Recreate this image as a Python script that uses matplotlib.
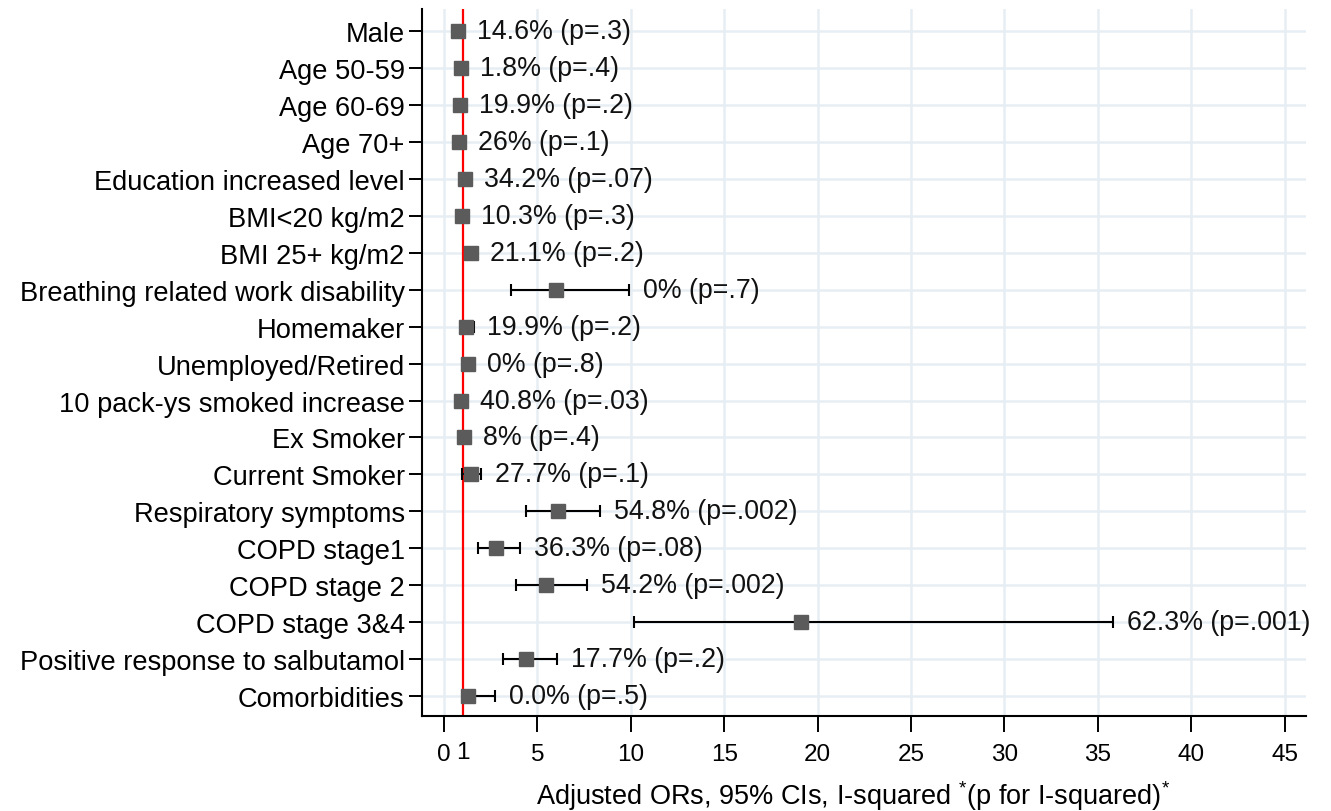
import matplotlib
matplotlib.use("Agg")
import matplotlib.pyplot as plt
import matplotlib.transforms as mtransforms

plt.rcParams['font.family'] = ['Liberation Sans', 'DejaVu Sans']
plt.rcParams['mathtext.fontset'] = 'custom'
plt.rcParams['mathtext.rm'] = 'Liberation Sans'
plt.rcParams['mathtext.it'] = 'Liberation Sans'

categories = ["Male", "Age 50-59", "Age 60-69", "Age 70+", "Education increased level",
              "BMI<20 kg/m2", "BMI 25+ kg/m2", "Breathing related work disability",
              "Homemaker", "Unemployed/Retired", "10 pack-ys smoked increase",
              "Ex Smoker", "Current Smoker", "Respiratory symptoms", "COPD stage1",
              "COPD stage 2", "COPD stage 3&4", "Positive response to salbutamol",
              "Comorbidities"]
odds_ratio = [0.75, 0.89, 0.86, 0.82, 1.12, 0.98, 1.43, 6.0, 1.16, 1.27, 0.89,
              1.09, 1.43, 6.12, 2.79, 5.45, 19.1, 4.39, 1.27]
ci_lower = [0.50, 0.62, 0.60, 0.56, 0.86, 0.72, 1.17, 3.57, 0.92, 1.00, 0.62,
            0.82, 0.98, 4.39, 1.84, 3.86, 10.19, 3.18, 1.00]
ci_upper = [1.02, 1.16, 1.13, 1.09, 1.38, 1.25, 1.70, 9.91, 1.58, 1.54, 1.16,
            1.36, 2.00, 8.37, 4.05, 7.68, 35.8, 6.04, 2.73]
isq_labels = ["14.6% (p=.3)", "1.8% (p=.4)", "19.9% (p=.2)", "26% (p=.1)",
              "34.2% (p=.07)", "10.3% (p=.3)", "21.1% (p=.2)", "0% (p=.7)",
              "19.9% (p=.2)", "0% (p=.8)", "40.8% (p=.03)", "8% (p=.4)",
              "27.7% (p=.1)", "54.8% (p=.002)", "36.3% (p=.08)", "54.2% (p=.002)",
              "62.3% (p=.001)", "17.7% (p=.2)", "0.0% (p=.5)"]
xticks = [0, 5, 10, 15, 20, 25, 30, 35, 40, 45]
ref_line = 1

fig = plt.figure(figsize=(13.31, 8.12), dpi=100)
ax = fig.add_axes([422/1331, 1-717/812, (1306-422)/1331, (717-10)/812])

ypos = list(range(len(categories)))
grid_c = '#e6eef3'
for x in xticks:
    ax.axvline(x, color=grid_c, lw=1.8, zorder=0)
for y in ypos:
    ax.axhline(y, color=grid_c, lw=1.8, zorder=0)

ax.axvline(ref_line, color='#ff0000', lw=1.6, zorder=1)

xerr = [[o - l for o, l in zip(odds_ratio, ci_lower)],
        [u - o for o, u in zip(odds_ratio, ci_upper)]]
ax.errorbar(odds_ratio, ypos, xerr=xerr, fmt='none', ecolor='black',
            elinewidth=1.5, capsize=4.4, capthick=1.5, zorder=2)
ax.plot(odds_ratio, ypos, 's', color='#5b5b5b', markersize=10, zorder=3)

for y, u, lab in zip(ypos, ci_upper, isq_labels):
    ax.annotate(lab, (u, y), xytext=(10, 0), textcoords='offset points',
                va='center', ha='left', fontsize=19.3, color='#111111')

ax.set_xlim(-1.18, 46.15)
ax.set_ylim(18.54, -0.6)
ax.set_yticks(ypos)
ax.set_yticklabels(categories, fontsize=19.6)
ax.set_xticks(xticks)
ax.set_xticklabels([str(t) for t in xticks], fontsize=17.5)
ax.tick_params(axis='y', length=9.5, width=1.4, pad=3, colors='black')
ax.tick_params(axis='x', length=11.5, width=1.4, pad=8)
trans = mtransforms.blended_transform_factory(ax.transData, ax.transAxes)
ax.annotate(str(ref_line), (ref_line, 0), xycoords=trans, xytext=(0, -18),
            textcoords='offset points', ha='center', va='top', fontsize=17.5)

for s in ['top', 'right']:
    ax.spines[s].set_visible(False)
for s in ['left', 'bottom']:
    ax.spines[s].set_linewidth(1.5)

ax.set_xlabel(r"Adjusted ORs, 95% CIs, I-squared $^{*}$(p for I-squared)$^{*}$",
              fontsize=19.5)
ax.xaxis.set_label_coords(0.488, -0.1245)
ax.xaxis.label.set_va('baseline')

fig.savefig("out.png", dpi=100)
